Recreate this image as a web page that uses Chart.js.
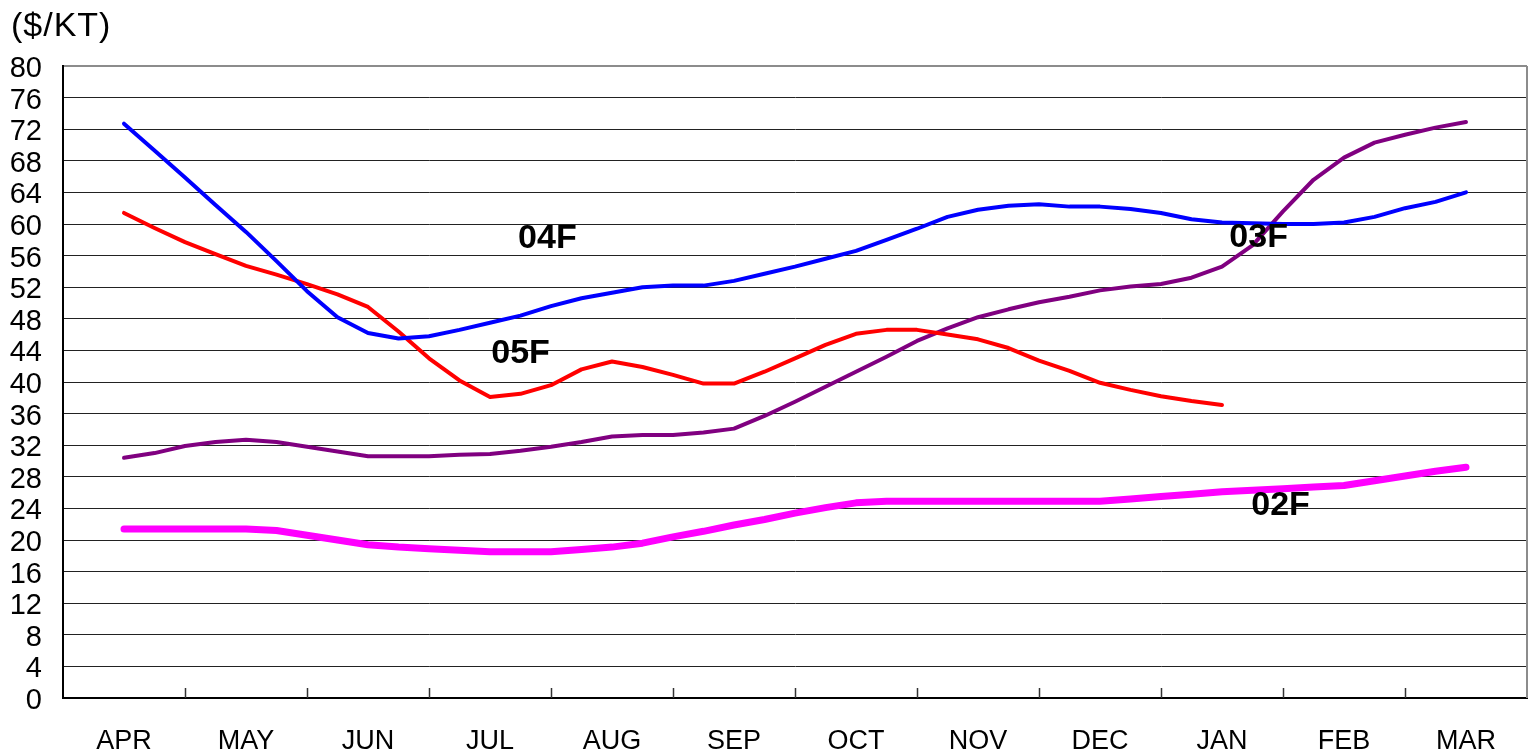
<!DOCTYPE html>
<html>
<head>
<meta charset="utf-8">
<script src="https://cdn.jsdelivr.net/npm/chart.js@4.4.1/dist/chart.umd.min.js"></script>
<style>
  html, body { margin: 0; padding: 0; background: #ffffff; }
  #wrap { width: 1530px; height: 756px; position: relative; }
</style>
</head>
<body>
<div id="wrap"><canvas id="chart"></canvas></div>
<script>
// months on the x axis
const MONTHS = ['APR', 'MAY', 'JUN', 'JUL', 'AUG', 'SEP', 'OCT', 'NOV', 'DEC', 'JAN', 'FEB', 'MAR'];
// weekly readings, 4 per month, starting mid-APR
const S04F = [72.7, 69.3, 65.9, 62.4, 59.0, 55.3, 51.5, 48.2, 46.2, 45.5, 45.8, 46.6, 47.5, 48.4, 49.6,
              50.6, 51.3, 52.0, 52.2, 52.2, 52.8, 53.7, 54.6, 55.6, 56.6, 58.0, 59.4, 60.9, 61.8, 62.3,
              62.5, 62.2, 62.2, 61.9, 61.4, 60.6, 60.2, 60.1, 60.0, 60.0, 60.2, 60.9, 62.0, 62.8, 64.0];
const S05F = [61.4, 59.5, 57.7, 56.2, 54.7, 53.6, 52.4, 51.1, 49.5, 46.4, 43.0, 40.2, 38.1, 38.5, 39.6,
              41.6, 42.6, 41.9, 40.9, 39.8, 39.8, 41.3, 43.0, 44.7, 46.1, 46.6, 46.6, 46.0, 45.4, 44.3,
              42.7, 41.4, 39.9, 39.0, 38.2, 37.6, 37.1];
const S03F = [30.4, 31.0, 31.9, 32.4, 32.7, 32.4, 31.8, 31.2, 30.6, 30.6, 30.6, 30.8, 30.9, 31.3, 31.8,
              32.4, 33.1, 33.3, 33.3, 33.6, 34.1, 35.7, 37.5, 39.4, 41.3, 43.2, 45.2, 46.8, 48.2, 49.2,
              50.1, 50.8, 51.6, 52.1, 52.4, 53.2, 54.6, 57.3, 61.6, 65.6, 68.4, 70.3, 71.3, 72.2, 72.9];
const S02F = [21.4, 21.4, 21.4, 21.4, 21.4, 21.2, 20.6, 20.0, 19.4, 19.1, 18.9, 18.7, 18.5, 18.5, 18.5,
              18.8, 19.1, 19.6, 20.4, 21.1, 21.9, 22.6, 23.4, 24.1, 24.7, 24.9, 24.9, 24.9, 24.9, 24.9,
              24.9, 24.9, 24.9, 25.2, 25.5, 25.8, 26.1, 26.3, 26.5, 26.7, 26.9, 27.5, 28.1, 28.7, 29.2];
const Y_MIN = 0, Y_MAX = 80, Y_STEP = 4;

// series name labels placed in the plot (x in months, y in $/KT)
const SERIES_TAGS = [
    { text: '04F', x: 3.23, y: 57.0 },
    { text: '05F', x: 3.01, y: 42.4 },
    { text: '03F', x: 9.06, y: 57.1 },
    { text: '02F', x: 9.24, y: 23.2 }
];

function toPoints(values) {
    return values.map((v, i) => ({ x: i / 4, y: v }));
}

// title, inner tick marks, right frame and series tags
const decorPlugin = {
    id: 'decor',
    afterDraw(chart) {
        const ctx = chart.ctx;
        const area = chart.chartArea;
        const xs = chart.scales.x;
        const ys = chart.scales.y;
        ctx.save();

        // right frame
        ctx.strokeStyle = '#8c8c8c';
        ctx.lineWidth = 2;
        ctx.beginPath();
        ctx.moveTo(area.right, area.top);
        ctx.lineTo(area.right, area.bottom);
        ctx.stroke();

        // short month separators rising from the x axis
        ctx.strokeStyle = '#333333';
        ctx.lineWidth = 1.5;
        for (let i = 0; i < MONTHS.length - 1; i++) {
            const px = Math.round(xs.getPixelForValue(i + 0.5)) + 0.5;
            ctx.beginPath();
            ctx.moveTo(px, area.bottom);
            ctx.lineTo(px, area.bottom - 10);
            ctx.stroke();
        }

        // unit title
        ctx.fillStyle = '#000000';
        ctx.font = '34px "Liberation Sans", Arial, sans-serif';
        ctx.textAlign = 'left';
        ctx.textBaseline = 'alphabetic';
        ctx.letterSpacing = '1px';
        ctx.fillText('($/KT)', 11, 36);
        ctx.letterSpacing = '0px';

        // series tags
        ctx.font = 'bold 34px "Liberation Sans", Arial, sans-serif';
        SERIES_TAGS.forEach(t => {
            ctx.fillText(t.text, xs.getPixelForValue(t.x), ys.getPixelForValue(t.y));
        });
        ctx.restore();
    }
};

new Chart(document.getElementById('chart'), {
    type: 'line',
    data: {
        datasets: [
            { label: '04F', data: toPoints(S04F), borderColor: '#0000ff', borderWidth: 4 },
            { label: '05F', data: toPoints(S05F), borderColor: '#ff0000', borderWidth: 4 },
            { label: '03F', data: toPoints(S03F), borderColor: '#800080', borderWidth: 4 },
            { label: '02F', data: toPoints(S02F), borderColor: '#ff00ff', borderWidth: 7 }
        ]
    },
    options: {
        responsive: true,
        maintainAspectRatio: false,
        animation: false,
        events: [],
        elements: {
            point: { radius: 0, hoverRadius: 0 },
            line: { tension: 0, borderCapStyle: 'round', borderJoinStyle: 'round', fill: false }
        },
        layout: { padding: { left: 0, top: 66, right: 3, bottom: 0 } },
        plugins: {
            legend: { display: false },
            tooltip: { enabled: false }
        },
        scales: {
            x: {
                type: 'linear',
                min: -0.5,
                max: 11.5,
                afterBuildTicks: axis => { axis.ticks = MONTHS.map((m, i) => ({ value: i })); },
                afterFit: axis => { axis.height = 58; },
                grid: { display: false, drawTicks: false },
                border: { display: true, color: '#000000', width: 2 },
                ticks: {
                    autoSkip: false,
                    maxRotation: 0,
                    padding: 27,
                    color: '#000000',
                    font: { family: '"Liberation Sans", Arial, sans-serif', size: 27 },
                    callback: v => MONTHS[v]
                }
            },
            y: {
                min: Y_MIN,
                max: Y_MAX,
                afterFit: axis => { axis.width = 63; },
                grid: {
                    drawTicks: false,
                    color: c => (c.tick && c.tick.value === Y_MAX) ? '#8c8c8c' : '#222222',
                    lineWidth: c => (c.tick && c.tick.value === Y_MAX) ? 2 : 1
                },
                border: { display: true, color: '#000000', width: 2 },
                ticks: {
                    stepSize: Y_STEP,
                    autoSkip: false,
                    padding: 21,
                    labelOffset: 3,
                    color: '#000000',
                    font: { family: '"Liberation Sans", Arial, sans-serif', size: 29 }
                }
            }
        }
    },
    plugins: [decorPlugin]
});
</script>
</body>
</html>
